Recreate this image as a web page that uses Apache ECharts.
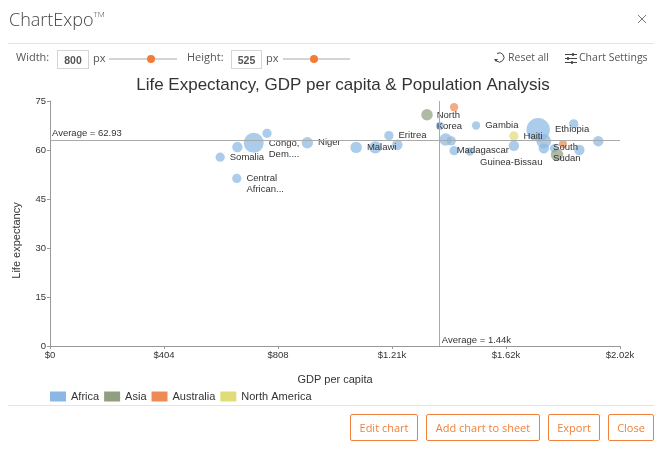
<!DOCTYPE html>
<html lang="en">
<head>
<meta charset="UTF-8">
<title>ChartExpo</title>
<script src="https://cdn.jsdelivr.net/npm/echarts@6/dist/echarts.min.js"></script>
<style>
    html, body { margin: 0; padding: 0; background: #fff; overflow: hidden; }
    #chart { position: absolute; left: 0; top: 0; width: 667px; height: 455px; }
    .ui { position: absolute; font-family: "Open Sans", "Noto Sans", sans-serif; color: #555; font-size: 11px; white-space: nowrap; }
    .sep { position: absolute; left: 8px; width: 646px; height: 1px; background: #e4e4e4; }
    .box { position: absolute; top: 50px; height: 17px; line-height: 19px; border: 1px solid #d5d5d5; text-align: center; font-family: "Liberation Sans", sans-serif; font-size: 10.5px; font-weight: bold; color: #555; box-sizing: content-box; }
    .track { position: absolute; top: 58px; height: 2px; background: #d4d4d4; }
    .knob { position: absolute; top: 55px; width: 8px; height: 8px; border-radius: 50%; background: #f47b36; }
    .btn { position: absolute; top: 414px; height: 25px; line-height: 25px; border: 1px solid #f1803a; border-radius: 2px; text-align: center; color: #f1803a; font-family: "Open Sans", sans-serif; font-size: 11px; box-sizing: content-box; }
    svg { position: absolute; }
</style>
</head>
<body>
<div id="chart"></div>

<div class="ui" style="left:9px;top:7px;font-size:18px;color:#444;font-weight:300;">ChartExpo<sup style="font-size:8px;vertical-align:9px;line-height:0;">TM</sup></div>
<svg style="left:637px;top:14px;" width="10" height="10"><path d="M1 1L9 9M9 1L1 9" stroke="#777" stroke-width="1" fill="none"/></svg>
<div class="sep" style="top:43px;"></div>

<div class="ui" style="left:16px;top:49px;">Width:</div>
<div class="box" style="left:57px;width:30px;">800</div>
<div class="ui" style="left:93px;top:50px;">px</div>
<div class="track" style="left:109px;width:68px;"></div>
<div class="knob" style="left:147px;"></div>
<div class="ui" style="left:187px;top:49px;">Height:</div>
<div class="box" style="left:231px;width:29px;">525</div>
<div class="ui" style="left:266px;top:50px;">px</div>
<div class="track" style="left:283px;width:67px;"></div>
<div class="knob" style="left:310px;"></div>

<svg style="left:493px;top:51px;" width="14" height="14"><path d="M4 2.5A4.6 4.6 0 1 1 3.5 10" stroke="#444" stroke-width="1" fill="none"/><path d="M1 8L5 8L3 11Z" fill="#444"/></svg>
<div class="ui" style="left:508px;top:50px;font-size:10.5px;">Reset all</div>
<svg style="left:564px;top:52px;" width="14" height="13"><path d="M1 2.5H13M1 6.5H13M1 10.5H13" stroke="#444" stroke-width="1" fill="none"/><path d="M9 1V4M4 5V8M8 9V12" stroke="#444" stroke-width="1.6" fill="none"/></svg>
<div class="ui" style="left:579px;top:50px;font-size:10.5px;">Chart Settings</div>

<div class="sep" style="top:405px;"></div>
<div class="btn" style="left:350px;width:66px;">Edit chart</div>
<div class="btn" style="left:426px;width:112px;">Add chart to sheet</div>
<div class="btn" style="left:548px;width:50px;">Export</div>
<div class="btn" style="left:608px;width:44px;">Close</div>

<script type="text/javascript">
    // values
    var africaGdp = [603, 664, 662, 722, 769, 912, 1085, 1153, 1231, 1201, 1382, 1402, 1422, 1510, 1432, 1488, 1644, 1730, 1750, 1750, 1856, 1786, 1876, 1943];
    var africaLife = [57.8, 60.9, 51.3, 62.2, 65.1, 62.2, 60.8, 60.8, 61.6, 64.4, 67.4, 63.2, 62.8, 67.5, 59.8, 59.5, 61.3, 66.2, 62.7, 60.5, 68, 60.5, 60, 62.7];
    var africaPop = [15, 19, 15, 70, 15, 23, 23, 27, 19, 15, 12, 27, 15, 12, 15, 12, 19, 96, 37, 19, 15, 12, 19, 19];
    var africaNames = ['Somalia', '', 'Central\nAfrican...', 'Congo,\nDem....', '', 'Niger', 'Malawi', '', '', 'Eritrea', '', '', '', 'Gambia', 'Madagascar', '', 'Guinea-Bissau', 'Ethiopia', '', '', '', 'South\nSudan', '', ''];

    var asiaGdp = [1336, 1797];
    var asiaLife = [70.8, 58.5];
    var asiaPop = [23, 27];
    var asiaNames = ['North\nKorea', ''];

    var australiaGdp = [1432, 1818];
    var australiaLife = [73.1, 61.8];
    var australiaPop = [12, 12];
    var australiaNames = ['', ''];

    var northAmericaGdp = [1644];
    var northAmericaLife = [64.3];
    var northAmericaPop = [15];
    var northAmericaNames = ['Haiti'];

    var xTicks = ['$0', '$404', '$808', '$1.21k', '$1.62k', '$2.02k'];
    var yTicks = [0, 15, 30, 45, 60, 75];
    var avgLife = 62.93;
    var avgGdp = 1378;

    // labels that do not sit plainly to the right of their bubble
    var labelShift = {
        'Central\nAfrican...': [0, 5],
        'Congo,\nDem....': [0, 6],
        'Madagascar': [-7, 0],
        'Guinea-Bissau': [-44, 17],
        'South\nSudan': [-10, 5],
        'North\nKorea': [-1, 6]
    };

    var font = '"Liberation Sans", Arial, sans-serif';

    function makeSeries(name, color, gdp, life, pop, names) {
        return {
            name: name,
            type: 'scatter',
            itemStyle: { color: color, opacity: 0.72 },
            symbolSize: function (v) {
                return 2 * Math.sqrt(v[2] / 0.7);
            },
            label: {
                show: true,
                position: 'right',
                distance: 5,
                color: '#333',
                opacity: 1,
                fontFamily: font,
                fontSize: 9.5,
                lineHeight: 11,
                formatter: function (p) { return p.name; }
            },
            data: gdp.map(function (x, i) {
                return {
                    name: names[i],
                    value: [x, life[i], pop[i]],
                    label: labelShift[names[i]] ? { offset: labelShift[names[i]] } : {}
                };
            })
        };
    }

    var series = [
        makeSeries('Africa', '#8ab8e2', africaGdp, africaLife, africaPop, africaNames),
        makeSeries('Asia', '#8f9f80', asiaGdp, asiaLife, asiaPop, asiaNames),
        makeSeries('Australia', '#ee8a52', australiaGdp, australiaLife, australiaPop, australiaNames),
        makeSeries('North America', '#e0dc7a', northAmericaGdp, northAmericaLife, northAmericaPop, northAmericaNames)
    ];

    series[0].markLine = {
        silent: true,
        symbol: 'none',
        animation: false,
        lineStyle: { color: '#aaa', width: 1, type: 'solid' },
        data: [
            {
                yAxis: avgLife,
                label: { formatter: 'Average = 62.93', position: 'insideStartTop', color: '#333', fontFamily: font, fontSize: 9.5, distance: 2 }
            },
            {
                xAxis: avgGdp,
                label: { formatter: 'Average = 1.44k', position: 'insideStartBottom', rotate: 0, color: '#333', fontFamily: font, fontSize: 9.5, offset: [-2, -16] }
            }
        ]
    };

    var chart = echarts.init(document.getElementById('chart'));
    chart.setOption({
        animation: false,
        textStyle: { fontFamily: font },
        title: {
            text: 'Life Expectancy, GDP per capita & Population Analysis',
            left: 338,
            top: 72,
            textAlign: 'center',
            textStyle: { fontFamily: font, fontSize: 17, fontWeight: 'normal', color: '#333' }
        },
        legend: {
            left: 45,
            top: 386,
            itemWidth: 16,
            itemHeight: 10,
            itemGap: 5,
            textStyle: { fontFamily: font, fontSize: 11, color: '#333' },
            data: [
                { name: 'Africa', icon: 'rect', itemStyle: { opacity: 1 } },
                { name: 'Asia', icon: 'rect', itemStyle: { opacity: 1 } },
                { name: 'Australia', icon: 'rect', itemStyle: { opacity: 1 } },
                { name: 'North America', icon: 'rect', itemStyle: { opacity: 1 } }
            ]
        },
        grid: { left: 50, right: 47, top: 101, bottom: 109, outerBoundsMode: 'none' },
        xAxis: {
            type: 'value',
            min: 0,
            max: 2020,
            interval: 404,
            name: 'GDP per capita',
            nameLocation: 'middle',
            nameGap: 28,
            nameTextStyle: { fontSize: 11, color: '#333' },
            splitLine: { show: false },
            axisLine: { lineStyle: { color: '#999' } },
            axisTick: { length: 3, lineStyle: { color: '#999' } },
            axisLabel: {
                fontSize: 9.5,
                color: '#333',
                margin: 4,
                formatter: function (v) { return xTicks[Math.round(v / 404)]; }
            }
        },
        yAxis: {
            type: 'value',
            min: yTicks[0],
            max: yTicks[yTicks.length - 1],
            interval: 15,
            name: 'Life expectancy',
            nameLocation: 'middle',
            nameGap: 28,
            nameTextStyle: { fontSize: 11, color: '#333', padding: [0, 34, 0, 0] },
            splitLine: { show: false },
            axisLine: { show: true, lineStyle: { color: '#999' } },
            axisTick: { show: true, length: 3, lineStyle: { color: '#999' } },
            axisLabel: { fontSize: 9.5, color: '#333', margin: 4 }
        },
        series: series
    });
</script>
</body>
</html>
